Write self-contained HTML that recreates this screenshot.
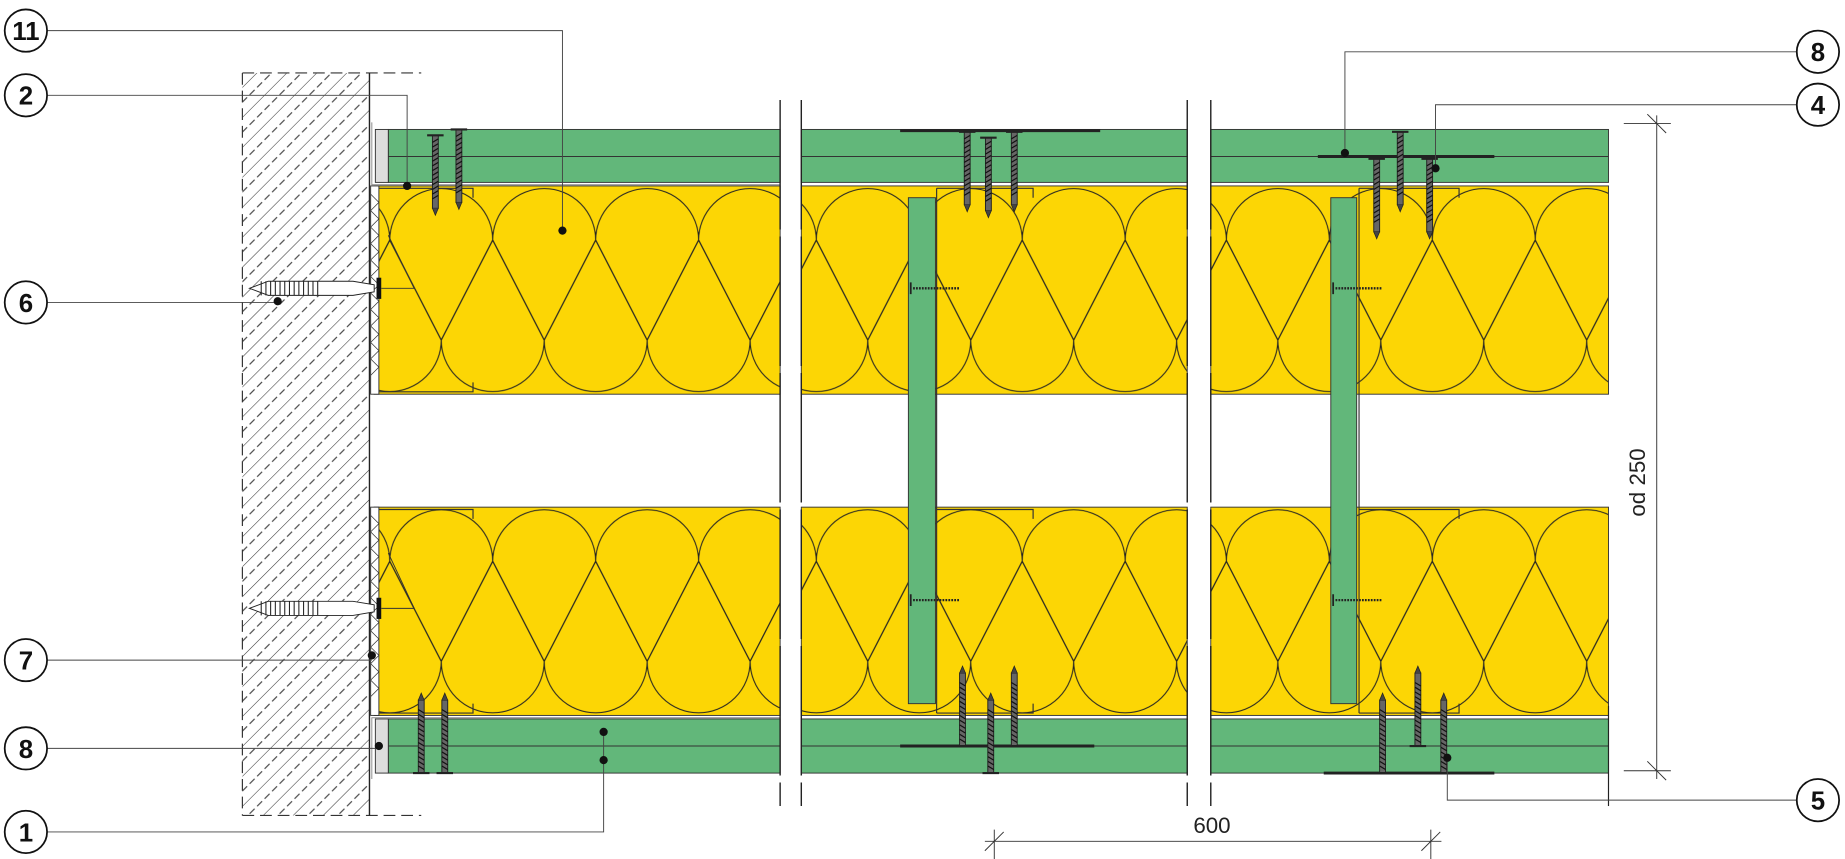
<!DOCTYPE html>
<html><head><meta charset="utf-8"><style>html,body{margin:0;padding:0;background:#fff}svg{display:block}</style></head><body>
<svg width="1845" height="859" viewBox="0 0 1568 730" xmlns="http://www.w3.org/2000/svg" font-family="Liberation Sans, sans-serif">
<defs>
<g id="tile" fill="none" stroke="#222" stroke-width="0.9">
<path d="M0,46 A43.75,43.75 0 0 1 87.5,46 L43.75,131 Z"/>
<path d="M-43.75,131 A43.75,43.75 0 0 0 43.75,131 L0,46 Z"/>
<path d="M43.75,131 A43.75,43.75 0 0 0 131.25,131 L87.5,46 Z"/>
</g>
<pattern id="p1a" patternUnits="userSpaceOnUse" x="331.25" y="158" width="87.5" height="177"><rect width="87.5" height="177" fill="#fcd605"/><use href="#tile"/></pattern>
<pattern id="p2a" patternUnits="userSpaceOnUse" x="693.75" y="158" width="87.5" height="177"><rect width="87.5" height="177" fill="#fcd605"/><use href="#tile"/></pattern>
<pattern id="p3a" patternUnits="userSpaceOnUse" x="954.75" y="158" width="87.5" height="177"><rect width="87.5" height="177" fill="#fcd605"/><use href="#tile"/></pattern>
<pattern id="p1b" patternUnits="userSpaceOnUse" x="331.25" y="431" width="87.5" height="177"><rect width="87.5" height="177" fill="#fcd605"/><use href="#tile"/></pattern>
<pattern id="p2b" patternUnits="userSpaceOnUse" x="693.75" y="431" width="87.5" height="177"><rect width="87.5" height="177" fill="#fcd605"/><use href="#tile"/></pattern>
<pattern id="p3b" patternUnits="userSpaceOnUse" x="954.75" y="431" width="87.5" height="177"><rect width="87.5" height="177" fill="#fcd605"/><use href="#tile"/></pattern>
<pattern id="hatch" patternUnits="userSpaceOnUse" width="18" height="18" patternTransform="rotate(45)">
<line x1="0" y1="0" x2="0" y2="18" stroke="#333" stroke-width="0.9"/>
<line x1="9" y1="0" x2="9" y2="18" stroke="#333" stroke-width="0.9" stroke-dasharray="6,3"/>
</pattern>
<g id="vs"><rect x="-2.5" y="0" width="5" height="62" fill="#666" stroke="#222" stroke-width="0.8"/><path d="M-2.5,6 l5,-3 M-2.5,10 l5,-3 M-2.5,14 l5,-3 M-2.5,18 l5,-3 M-2.5,22 l5,-3 M-2.5,26 l5,-3 M-2.5,30 l5,-3 M-2.5,34 l5,-3 M-2.5,38 l5,-3 M-2.5,42 l5,-3 M-2.5,46 l5,-3 M-2.5,50 l5,-3 M-2.5,54 l5,-3" stroke="#111" stroke-width="1"/><path d="M-7,0 h14" stroke="#222" stroke-width="1.8"/><path d="M-2.5,62 L0,68 L2.5,62" fill="#444" stroke="#222" stroke-width="0.6"/></g>
</defs>

<!-- wall -->
<rect x="206" y="62" width="108" height="631" fill="url(#hatch)"/>
<path d="M206,62 H358 M206,693 H358 M206,62 V693" stroke="#333" stroke-width="1" stroke-dasharray="10,5" fill="none"/>
<line x1="314" y1="62" x2="314" y2="693" stroke="#222" stroke-width="1.2"/>

<!-- boards -->
<g stroke="#333" stroke-width="0.8">
<rect x="330" y="110" width="333" height="45" fill="#62b77a"/>
<rect x="681" y="110" width="328" height="45" fill="#62b77a"/>
<rect x="1029" y="110" width="338" height="45" fill="#62b77a"/>
<rect x="330" y="611" width="333" height="46" fill="#62b77a"/>
<rect x="681" y="611" width="328" height="46" fill="#62b77a"/>
<rect x="1029" y="611" width="338" height="46" fill="#62b77a"/>
<path d="M330,133 H663 M681,133 H1009 M1029,133 H1367 M330,634 H663 M681,634 H1009 M1029,634 H1367"/>
<rect x="319" y="110" width="11" height="45" fill="#ddd"/>
<rect x="319" y="611" width="11" height="46" fill="#ddd"/>
</g>
<path d="M316,104 V157 H663 M316,662 V610 H663" fill="none" stroke="#888" stroke-width="0.8"/>

<!-- insulation -->
<g stroke="#333" stroke-width="0.8">
<rect x="318" y="158" width="345" height="177" fill="url(#p1a)"/>
<rect x="681" y="158" width="328" height="177" fill="url(#p2a)"/>
<rect x="1029" y="158" width="338" height="177" fill="url(#p3a)"/>
<rect x="318" y="431" width="345" height="177" fill="url(#p1b)"/>
<rect x="681" y="431" width="328" height="177" fill="url(#p2b)"/>
<rect x="1029" y="431" width="338" height="177" fill="url(#p3b)"/>
<rect x="315" y="158" width="7" height="177" fill="#fff"/>
<rect x="315" y="431" width="7" height="177" fill="#fff"/>
</g>
<path d="M315,165 l7,7 l-7,7 l7,7 l-7,7 l7,7 l-7,7 l7,7 l-7,7 l7,7 l-7,7 l7,7 l-7,7 l7,7 l-7,7 l7,7 l-7,7 l7,7 l-7,7 l7,7 l-7,7 l7,7 l-7,7 M315,438 l7,7 l-7,7 l7,7 l-7,7 l7,7 l-7,7 l7,7 l-7,7 l7,7 l-7,7 l7,7 l-7,7 l7,7 l-7,7 l7,7 l-7,7 l7,7 l-7,7 l7,7 l-7,7 l7,7 l-7,7" fill="none" stroke="#333" stroke-width="0.6"/>
<!-- profiles -->
<path d="M322,160 H402 V168 M322,333 H402 V325 M322,433 H402 V441 M322,606 H402 V598 M796,160 H878 V168 M796,606 H878 V598 M796,433 H878 V441 M1155,160 H1240 V168 M1155,433 H1240 V441 M1155,606 H1240 V598 M796,160 V606 M1155,160 V606" fill="none" stroke="#333" stroke-width="1"/>

<!-- studs -->
<rect x="772" y="168" width="23" height="430" fill="#62b77a" stroke="#333" stroke-width="0.8"/>
<rect x="1131" y="168" width="22" height="430" fill="#62b77a" stroke="#333" stroke-width="0.8"/>
<g stroke="#222" stroke-width="2" stroke-dasharray="1.5,1"><path d="M776,245 H815 M776,510 H815 M1135,245 H1175 M1135,510 H1175"/></g>
<path d="M774,240 v10 M774,505 v10 M1133,240 v10 M1133,505 v10" stroke="#222" stroke-width="1.5"/>

<!-- anchors -->
<g fill="#fff" stroke="#222" stroke-width="0.8">
<path d="M212,245 L228,239 H300 L318,242 V248 L300,251 H228 Z"/>
<path d="M212,517 L228,511 H300 L318,514 V520 L300,523 H228 Z"/>
</g>
<path d="M222,239 v12 M226,239 v12 M230,239 v12 M234,239 v12 M238,239 v12 M242,239 v12 M246,239 v12 M250,239 v12 M254,239 v12 M258,239 v12 M262,239 v12 M266,239 v12 M270,239 v12 M222,511 v12 M226,511 v12 M230,511 v12 M234,511 v12 M238,511 v12 M242,511 v12 M246,511 v12 M250,511 v12 M254,511 v12 M258,511 v12 M262,511 v12 M266,511 v12 M270,511 v12" stroke="#222" stroke-width="0.9"/>
<rect x="320" y="236" width="4" height="18" fill="#111"/><rect x="320" y="508" width="4" height="18" fill="#111"/>
<path d="M324,245 H352 L330,200 M324,517 H352 L330,470" fill="none" stroke="#333" stroke-width="0.8"/>

<!-- plates -->
<path d="M765,111 H935 M1120,133 H1270 M765,634 H930 M1125,657 H1270" stroke="#222" stroke-width="2.5"/>
<!-- screws -->
<use href="#vs" x="370" y="115"/><use href="#vs" x="390" y="110"/>
<use href="#vs" x="822" y="112"/><use href="#vs" x="840" y="117"/><use href="#vs" x="862" y="112"/>
<use href="#vs" x="1170" y="135"/><use href="#vs" x="1190" y="112"/><use href="#vs" x="1215" y="135"/>
<g transform="translate(0,1250) scale(1,-1)">
<use href="#vs" x="358" y="593"/><use href="#vs" x="378" y="593"/>
<use href="#vs" x="818" y="616"/><use href="#vs" x="842" y="593"/><use href="#vs" x="862" y="616"/>
<use href="#vs" x="1175" y="593"/><use href="#vs" x="1205" y="616"/><use href="#vs" x="1227" y="593"/>
</g>

<!-- break lines -->
<g stroke="#222" stroke-width="1.2" stroke-dasharray="110,6">
<line x1="663" y1="85" x2="663" y2="685"/><line x1="681" y1="85" x2="681" y2="685"/>
<line x1="1009" y1="85" x2="1009" y2="685"/><line x1="1029" y1="85" x2="1029" y2="685"/>
</g>
<line x1="1367" y1="600" x2="1367" y2="685" stroke="#222" stroke-width="1"/>

<!-- dimensions -->
<g stroke="#333" stroke-width="0.8" fill="none">
<path d="M1408,98 V662 M1380,105 H1420 M1380,655 H1420 M1400,97 L1416,113 M1400,647 L1416,663"/>
<path d="M837,715 H1225 M845,705 V730 M1216,705 V730 M837,723 L853,707 M1208,723 L1224,707"/>
</g>
<text x="1030" y="708" font-size="19" text-anchor="middle" fill="#222">600</text>
<text transform="translate(1398,410) rotate(-90)" font-size="19" text-anchor="middle" fill="#222">od 250</text>

<!-- leaders -->
<g stroke="#444" stroke-width="0.8" fill="none">
<path d="M40,26 H478 V196"/><path d="M40,81 H346 V158"/><path d="M40,257 H236"/>
<path d="M40,561 H316"/><path d="M40,636 H322"/><path d="M40,707 H513 V622"/>
<path d="M1527,44 H1143 V130"/><path d="M1527,89 H1220 V143"/><path d="M1527,680 H1230 V644"/>
</g>
<g fill="#111">
<circle cx="478" cy="196" r="3.5"/><circle cx="346" cy="158" r="3.5"/><circle cx="236" cy="256" r="3.5"/>
<circle cx="316" cy="557" r="3.5"/><circle cx="322" cy="634" r="3.5"/><circle cx="513" cy="622" r="3.5"/><circle cx="513" cy="646" r="3.5"/>
<circle cx="1143" cy="130" r="3.5"/><circle cx="1220" cy="143" r="3.5"/><circle cx="1230" cy="644" r="3.5"/>
</g>
<g fill="#fff" stroke="#111" stroke-width="1.5">
<circle cx="22" cy="26" r="18"/><circle cx="22" cy="81" r="18"/><circle cx="22" cy="257" r="18"/>
<circle cx="22" cy="561" r="18"/><circle cx="22" cy="636" r="18"/><circle cx="22" cy="707" r="18"/>
<circle cx="1545" cy="44" r="18"/><circle cx="1545" cy="89" r="18"/><circle cx="1545" cy="680" r="18"/>
</g>
<g font-size="22" font-weight="bold" fill="#111" text-anchor="middle">
<text x="22" y="34">11</text><text x="22" y="89">2</text><text x="22" y="265">6</text>
<text x="22" y="569">7</text><text x="22" y="644">8</text><text x="22" y="715">1</text>
<text x="1545" y="52">8</text><text x="1545" y="97">4</text><text x="1545" y="688">5</text>
</g>
</svg>
</body></html>
